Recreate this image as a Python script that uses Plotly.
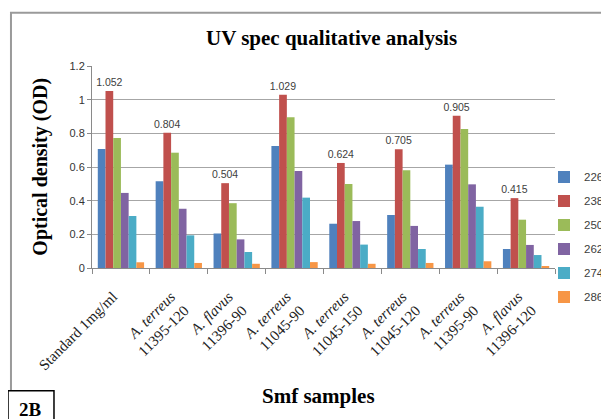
import plotly.graph_objects as go

categories = ["Standard 1mg/ml", "A. terreus 11395-120", "A. flavus 11396-90",
              "A. terreus 11045-90", "A. terreus 11045-150", "A. terreus 11045-120",
              "A. terreus 11395-90", "A. flavus 11396-120"]
tick_labels = ["Standard 1mg/ml",
               "<i>A. terreus</i><br>11395-120",
               "<i>A. flavus</i><br>11396-90",
               "<i>A. terreus</i><br>11045-90",
               "<i>A. terreus</i><br>11045-150",
               "<i>A. terreus</i><br>11045-120",
               "<i>A. terreus</i><br>11395-90",
               "<i>A. flavus</i><br>11396-120"]

series_names = ["226", "238", "250", "262", "274", "286"]
s226 = [0.707, 0.515, 0.205, 0.725, 0.263, 0.315, 0.614, 0.113]
s238 = [1.052, 0.804, 0.504, 1.029, 0.624, 0.705, 0.905, 0.415]
s250 = [0.772, 0.685, 0.385, 0.895, 0.499, 0.580, 0.826, 0.287]
s262 = [0.446, 0.352, 0.170, 0.576, 0.279, 0.250, 0.497, 0.137]
s274 = [0.309, 0.194, 0.095, 0.418, 0.139, 0.113, 0.364, 0.077]
s286 = [0.034, 0.030, 0.025, 0.035, 0.025, 0.030, 0.040, 0.010]
series_values = [s226, s238, s250, s262, s274, s286]
colors = ["#4F81BD", "#C0504D", "#9BBB59", "#8064A2", "#4BACC6", "#F79646"]
labelled_series = "238"

fig = go.Figure()
for name, vals, col in zip(series_names, series_values, colors):
    kw = {}
    if name == labelled_series:
        kw = dict(text=[f"{v:.3f}" for v in vals], textposition="outside",
                  textfont=dict(family="Liberation Sans, Arial", size=10.5, color="#404040"),
                  constraintext="none", cliponaxis=False)
    fig.add_trace(go.Bar(x=categories, y=vals, name=name, marker_color=col,
                         marker_line_width=0, legendgroup=name, **kw))

serif = "Liberation Serif, Times New Roman, serif"
sans = "Liberation Sans, Arial, sans-serif"

# page body has an 8px margin, so the figure is 8px smaller and shifted
fig.update_layout(
    width=601, height=411,
    margin=dict(l=84, r=54, t=58, b=151, autoexpand=False),
    paper_bgcolor="white", plot_bgcolor="white",
    barmode="group", bargap=0.2, bargroupgap=0,
    showlegend=True,
    legend=dict(xref="container", yref="container", x=1.0, xanchor="right",
                y=0.443, yanchor="middle",
                font=dict(family=sans, size=11.5, color="#404040"),
                traceorder="grouped", tracegroupgap=5, itemwidth=30,
                bgcolor="rgba(0,0,0,0)"),
    xaxis=dict(tickvals=categories, ticktext=tick_labels, tickangle=-45,
               tickfont=dict(family=serif, size=15, color="#222222"),
               ticklabelstandoff=13, ticklabelshift=-8,
               showline=True, linecolor="#8a8a8a", linewidth=1,
               ticks="outside", ticklen=5, tickcolor="#8a8a8a",
               tickson="boundaries", showgrid=False, automargin=False),
    yaxis=dict(range=[0, 1.2], dtick=0.2, tickformat="~g",
               tickfont=dict(family=sans, size=11, color="#333333"),
               showline=True, linecolor="#8a8a8a", linewidth=1,
               ticks="outside", ticklen=4, tickcolor="#8a8a8a",
               showgrid=True, gridcolor="#a6a6a6", gridwidth=1, zeroline=False,
               automargin=False),
    annotations=[
        dict(text="<b>UV spec qualitative analysis</b>", xref="paper", yref="paper",
             x=0.518, y=1.137, xanchor="center", yanchor="middle", showarrow=False,
             font=dict(family=serif, size=21, color="black")),
        dict(text="<b>Optical density (OD)</b>", xref="paper", yref="paper",
             x=-0.113, y=0.5, xanchor="center", yanchor="middle", showarrow=False,
             textangle=-90, font=dict(family=serif, size=20, color="black")),
        dict(text="<b>Smf samples</b>", xref="paper", yref="paper",
             x=0.49, y=-0.635, xanchor="center", yanchor="middle", showarrow=False,
             font=dict(family=serif, size=21, color="black")),
        dict(text="<b>2B</b>", xref="paper", yref="paper",
             x=-0.132, y=-0.70, xanchor="center", yanchor="middle", showarrow=False,
             font=dict(family=serif, size=19, color="black")),
    ],
    shapes=[
        dict(type="rect", xref="paper", yref="paper", x0=-0.175, x1=1.1145,
             y0=-0.85, y1=1.263, line=dict(color="#9a9a9a", width=2),
             fillcolor="rgba(0,0,0,0)", layer="below"),
        dict(type="rect", xref="paper", yref="paper", x0=-0.1814, x1=-0.0821,
             y0=-0.85, y1=-0.608, line=dict(color="black", width=1.5),
             fillcolor="white", layer="above"),
    ],
)

fig.write_html("out.html")
